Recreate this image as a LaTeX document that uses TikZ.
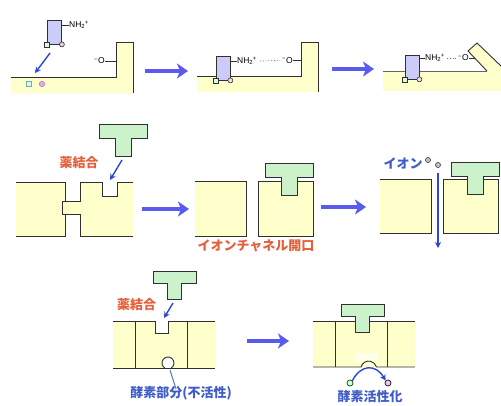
\documentclass[tikz,border=0pt]{standalone}
\usepackage{fontspec}
\setsansfont{Liberation Sans}
\newfontfamily\cjk{Noto Sans CJK JP}
\usetikzlibrary{arrows.meta}
\definecolor{memb}{HTML}{FFFFCC}
\definecolor{drug}{HTML}{CCF2CC}
\definecolor{lig}{HTML}{CCCCF8}
\definecolor{bigblue}{HTML}{5A5AF0}
\definecolor{ptrblue}{HTML}{2A48D8}
\definecolor{redtxt}{HTML}{E4603C}
\definecolor{bluetxt}{HTML}{3F5CC8}
\definecolor{outline}{HTML}{303030}
\newcommand\amine{NH\textsubscript{2}\kern-0.5pt\textsuperscript{+}}
\newcommand\oxan{\textsuperscript{−}O}
\begin{document}
\begin{tikzpicture}[x=1pt,y=-1pt,
  edge/.style={draw=outline,line width=0.9pt},
  ligand/.style={draw=outline,fill=lig,line width=0.8pt,minimum width=14pt,minimum height=24pt,inner sep=0pt},
  sqsite/.style={draw=outline,fill=green!15,line width=0.6pt,minimum size=5pt,inner sep=0pt},
  rdsite/.style={circle,draw=outline,fill=red!15,line width=0.6pt,minimum size=5pt,inner sep=0pt},
  bond/.style={draw=outline,line width=0.7pt},
  chem/.style={font=\sffamily\fontsize{8.5}{9}\selectfont,inner sep=0pt},
  hbond/.style={draw=red!50!brown,dotted,line width=0.8pt},
  drugshape/.style={fill=drug,draw=outline,line width=0.9pt},
  bigarrow/.style={draw=bigblue,line width=4.5pt,-{Stealth[length=11pt,width=15pt,inset=3pt]}},
  ptr/.style={draw=ptrblue,line width=1.4pt,-{Stealth[length=6pt,width=6pt]}},
  redlabel/.style={font=\cjk\bfseries\fontsize{13}{14}\selectfont,text=redtxt,inner sep=0pt},
  bluelabel/.style={font=\cjk\bfseries\fontsize{13}{14}\selectfont,text=bluetxt,inner sep=0pt},
  ion/.style={circle,draw=black!70,fill=blue!20!gray!40,line width=0.7pt,minimum size=5pt,inner sep=0pt},
  pics/drugT/.style={code={
    \draw[drugshape] (0,0) -- (48,0) -- (48,14) -- (32,14) -- (32,32) -- (16,32) -- (16,14) -- (0,14) -- cycle;}}
]
\useasboundingbox (0,0) rectangle (501,405);

% ---------- top row: ligand docking on the receptor ----------
% stage 1
\fill[memb] (11,77) -- (116,77) -- (116,42) -- (133,42) -- (133,93) -- (11,93) -- cycle;
\draw[edge] (11,77) -- (116,77) -- (116,42) -- (133,42) -- (133,93);
\node[ligand] (m1) at (54.5,32) {};
\node[sqsite] (s1) at (m1.south west) {};
\node[rdsite,fill=violet!20] (c1) at (m1.south east) {};
\draw[bond] (s1) -- (c1);
\node[chem,anchor=west] (nh1) at (69,25) {\amine};
\draw[bond] (m1.east |- nh1.west) -- (nh1.west);
\node[chem,anchor=east] (o1) at (105,61) {\oxan};
\coordinate (w1) at (116,61);
\draw[bond] (o1.east) -- (w1);
\node[draw=teal!60,fill=teal!10,line width=0.6pt,minimum size=5pt,inner sep=0pt] (fs1) at (29,84) {};
\node[circle,draw=violet!50,fill=violet!30,line width=0.6pt,minimum size=5.5pt,inner sep=0pt] (fc1) at (42,84) {};
\coordinate (t1) at (50,53);
\coordinate (t2) at (35,73);
\draw[ptr] (t1) -- (t2);

% stage 2
\fill[memb] (197,76) -- (301,76) -- (301,42) -- (318,42) -- (318,92) -- (197,92) -- cycle;
\draw[edge] (197,76) -- (301,76) -- (301,42) -- (318,42) -- (318,92);
\node[ligand] (m2) at (223,68) {};
\node[sqsite] (s2) at (m2.south west) {};
\node[rdsite] (c2) at (m2.south east) {};
\draw[bond] (s2) -- (c2);
\node[chem,anchor=west] (nh2) at (237,61) {\amine};
\draw[bond] (m2.east |- nh2.west) -- (nh2.west);
\node[chem,anchor=east] (o2) at (293,60.5) {\oxan};
\coordinate (w2) at (301,60.5);
\draw[bond] (o2.east) -- (w2);
\draw[hbond,shorten <=3pt,shorten >=2pt] (nh2.east) -- (o2.west);

% stage 3: the flap closes over the ligand
\fill[memb] (383,71) -- (487,71) -- (468,51) -- (477,43) -- (501,66) -- (501,91) -- (383,91) -- cycle;
\draw[edge,draw=black!60] (383,71) -- (487,71);
\draw[edge] (487,71) -- (468,51) -- (477,43) -- (501,66);
\node[ligand] (m3) at (412,67) {};
\node[sqsite] (s3) at (m3.south west) {};
\node[rdsite] (c3) at (m3.south east) {};
\draw[bond] (s3) -- (c3);
\node[chem,anchor=west] (nh3) at (425,58) {\amine};
\draw[bond] (m3.east |- nh3.west) -- (nh3.west);
\node[chem,anchor=west] (o3) at (458,58) {\oxan};
\coordinate (w3) at (475,58);
\draw[bond] (o3.east) -- (w3);
\draw[hbond,shorten <=2pt,shorten >=2pt] (nh3.east) -- (o3.west);

\coordinate (a1s) at (145,71); \coordinate (a1e) at (188,71);
\draw[bigarrow] (a1s) -- (a1e);
\coordinate (a2s) at (332,69); \coordinate (a2e) at (374,69);
\draw[bigarrow] (a2s) -- (a2e);

% ---------- middle row: ion channel ----------
% closed channel
\fill[memb] (16,182) -- (65,182) -- (65,201) -- (62,201) -- (62,214) -- (65,214) -- (65,236) -- (16,236) -- cycle;
\fill[memb] (62,201) rectangle (80,214);
\fill[memb] (80,182) -- (102,182) -- (102,196) -- (117,196) -- (117,182) -- (133,182) -- (133,236) -- (80,236) -- cycle;
\draw[edge] (16,182) -- (65,182) -- (65,201) -- (62,201) -- (62,214) -- (65,214) -- (65,236) -- (16,236);
\draw[edge] (62,201) -- (80,201) -- (80,182) -- (102,182) -- (102,196) -- (117,196) -- (117,182) -- (133,182);
\draw[edge] (62,214) -- (80,214) -- (80,236) -- (133,236);
\pic at (99,124) {drugT};
\node[redlabel] (lb1) at (79,163) {薬結合};
\coordinate (p1s) at (122,160); \coordinate (p1e) at (110,180);
\draw[ptr] (p1s) -- (p1e);

% open channel
\fill[memb] (195,181) rectangle (246,236);
\draw[edge] (195,181) -- (246,181) -- (246,236) -- (195,236);
\fill[memb] (258,181) rectangle (313,236);
\draw[edge] (258,236) -- (258,181) -- (313,181) -- (313,236) -- (258,236);
\pic at (265,163) {drugT};
\node[redlabel] (lb2) at (256,246) {イオンチャネル開口};

% ion flux
\fill[memb] (380,179) rectangle (431,233);
\draw[edge] (380,179) -- (431,179) -- (431,233) -- (380,233);
\fill[memb] (443,179) rectangle (498,233);
\draw[edge] (443,233) -- (443,179) -- (498,179) -- (498,233) -- (443,233);
\pic at (451,162) {drugT};
\node[bluelabel] (lb3) at (403,163) {イオン};
\node[ion] (i1) at (428,160) {};
\node[ion] (i2) at (438,165) {};
\coordinate (f1) at (438,173); \coordinate (f2) at (438,248);
\draw[ptr,line width=1.2pt] (f1) -- (f2);

\coordinate (a3s) at (142,209); \coordinate (a3e) at (189,209);
\draw[bigarrow] (a3s) -- (a3e);
\coordinate (a4s) at (321,207); \coordinate (a4e) at (366,207);
\draw[bigarrow] (a4s) -- (a4e);

% ---------- bottom row: enzyme-linked receptor ----------
% inactive
\fill[memb] (113,321) -- (155,321) -- (155,333) -- (168,333) -- (168,321) -- (215,321) -- (215,368) -- (113,368) -- cycle;
\draw[edge] (113,321) -- (155,321) -- (155,333) -- (168,333) -- (168,321) -- (215,321);
\draw[edge] (135,321) -- (135,368);
\draw[edge] (187,321) -- (187,368);
\draw[edge] (113,368) -- (215,368);
\coordinate (pk1) at (168,363);
\fill[white] ([shift={(124:6)}]pk1) arc[start angle=124,end angle=416,radius=6] -- cycle;
\draw[edge] ([shift={(124:6)}]pk1) arc[start angle=124,end angle=416,radius=6];
\pic[scale=0.9] at (153,271) {drugT};
\node[redlabel] (lb4) at (136.5,305) {薬結合};
\coordinate (p2s) at (173,303); \coordinate (p2e) at (164,318);
\draw[ptr] (p2s) -- (p2e);
\node[bluelabel] (lb5) at (181,393) {酵素部分(不活性)};
\coordinate (pk1b) at (170,370);
\draw[draw=bluetxt!80,line width=1.1pt] (pk1b) -- ([xshift=-5pt,yshift=-3pt]lb5.north);

\coordinate (a5s) at (247,341); \coordinate (a5e) at (289,341);
\draw[bigarrow] (a5s) -- (a5e);

% active
\fill[memb] (313,321) rectangle (415,367);
\fill[white,opacity=0.6] (356,353) rectangle (378,362);
\draw[edge] (313,321) -- (415,321);
\draw[edge] (335,321) -- (335,367);
\draw[edge] (387,321) -- (387,367);
\draw[edge] (313,367) -- (361,367) arc[start angle=195,end angle=345,radius=8] -- (415,367);
\pic[scale=0.9] at (341,304) {drugT};
\node[circle,draw=green!30!black,fill=green!15,line width=0.7pt,minimum size=6pt,inner sep=0pt] (g8) at (350,383) {};
\node[circle,draw=violet!40!black,fill=violet!20,line width=0.7pt,minimum size=6pt,inner sep=0pt] (v8) at (388,383) {};
\draw[ptr] (g8.north east) .. controls (361,364) and (376,364) .. (v8.north west);
\node[bluelabel] (lb6) at (370,397) {酵素活性化};
\end{tikzpicture}
\end{document}
